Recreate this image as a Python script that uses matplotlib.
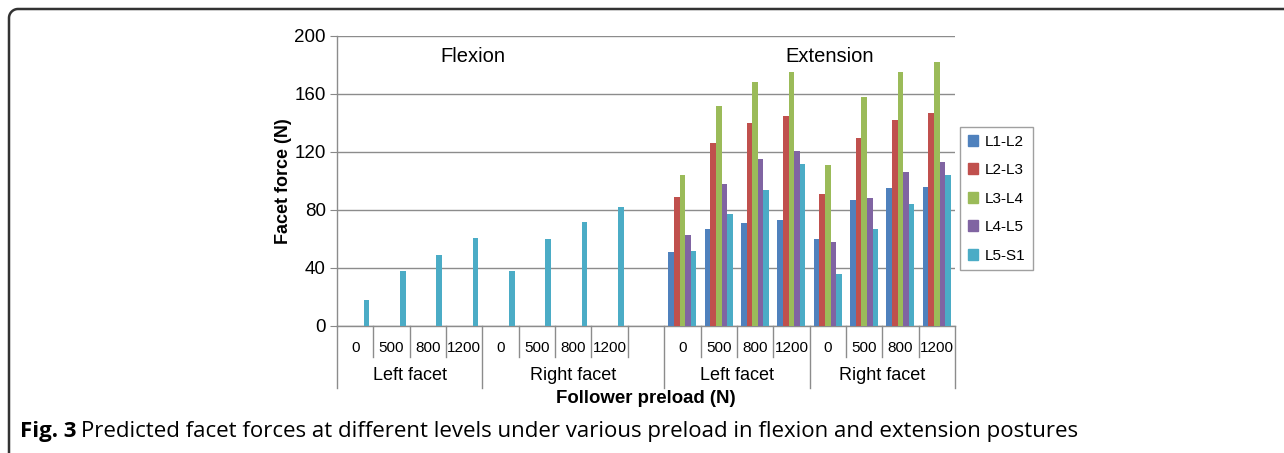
import numpy as np
import matplotlib
matplotlib.use('Agg')
import matplotlib.pyplot as plt
from matplotlib.lines import Line2D
from matplotlib.patches import Patch

levels = ['L1-L2', 'L2-L3', 'L3-L4', 'L4-L5', 'L5-S1']
colors = ['#4F81BD', '#C0504D', '#9BBB59', '#8064A2', '#4BACC6']
preloads = ['0', '500', '800', '1200']
sides = ['Left facet', 'Right facet', 'Left facet', 'Right facet']

# flexion: only L5-S1 carries facet force
flex_left_l5s1 = [18, 38, 49, 61]
flex_right_l5s1 = [38, 60, 72, 82]

# extension, rows = levels, columns = preloads
ext_left = [[51, 67, 71, 73],
            [89, 126, 140, 145],
            [104, 152, 168, 175],
            [63, 98, 115, 121],
            [52, 77, 94, 112]]
ext_right = [[60, 87, 95, 96],
             [91, 130, 142, 147],
             [111, 158, 175, 182],
             [58, 88, 106, 113],
             [36, 67, 84, 104]]

# category slots: 4 flexion-left, 4 flexion-right, 1 empty, 4 ext-left, 4 ext-right
flex_left_x = np.arange(0, 4)
flex_right_x = np.arange(4, 8)
ext_left_x = np.arange(9, 13)
ext_right_x = np.arange(13, 17)
n_cat = 17

plt.rcParams['font.family'] = ['Liberation Sans', 'DejaVu Sans']

fig = plt.figure(figsize=(12.84, 4.53), dpi=100)
ax = fig.add_axes([337/1284, 1-326/453, (955-337)/1284, 290/453])

w = 1/6.5
for i in range(5):
    off = (i - 2) * w
    if i == 4:
        ax.bar(flex_left_x + off, flex_left_l5s1, w, color=colors[i], zorder=3)
        ax.bar(flex_right_x + off, flex_right_l5s1, w, color=colors[i], zorder=3)
    ax.bar(ext_left_x + off, ext_left[i], w, color=colors[i], zorder=3)
    ax.bar(ext_right_x + off, ext_right[i], w, color=colors[i], zorder=3)

ax.set_xlim(-0.5, n_cat - 0.5)
ax.set_ylim(0, 200)
ax.set_yticks(np.arange(0, 201, 40))
ax.tick_params(axis='y', labelsize=13.5, length=5, color='#888888', pad=3)
ax.set_xticks([])
ax.grid(axis='y', color='#8c8c8c', linewidth=1, zorder=0)
for s in ['top', 'right']:
    ax.spines[s].set_visible(False)
for s in ['left', 'bottom']:
    ax.spines[s].set_color('#8c8c8c')
    ax.spines[s].set_linewidth(1)

ax.text(3.24, 186, 'Flexion', fontsize=14.5, ha='center', va='center')
ax.text(13.06, 186, 'Extension', fontsize=14.5, ha='center', va='center')

# two-row category axis drawn by hand
trans = ax.get_xaxis_transform()
group_edges = [-0.5, 3.5, 8.5, 12.5, 16.5]
for k in range(n_cat + 1):
    xe = k - 0.5
    y1 = -0.214 if xe in group_edges else -0.107
    ax.add_line(Line2D([xe, xe], [0, y1], transform=trans, color='#8c8c8c',
                       lw=1, clip_on=False))
for xs in [flex_left_x, flex_right_x, ext_left_x, ext_right_x]:
    for x, lab in zip(xs, preloads):
        ax.text(x, -0.076, lab, transform=trans, ha='center', va='center',
                fontsize=11)
for a, b, lab in zip(group_edges[:-1], group_edges[1:], sides):
    ax.text((a + b) / 2, -0.172, lab, transform=trans, ha='center',
            va='center', fontsize=13)
ax.text(8, -0.25, 'Follower preload (N)', transform=trans, ha='center',
        va='center', fontsize=13.4, fontweight='bold')
fig.text(283/1284, 1-181/453, 'Facet force (N)', rotation=90, ha='center',
         va='center', fontsize=13, fontweight='bold')

handles = [Patch(color=c) for c in colors]
fig.legend(handles, levels, loc='upper left',
           bbox_to_anchor=(960/1284, 1-127/453), fontsize=11,
           frameon=True, fancybox=False, edgecolor='#888888',
           handlelength=0.7, handleheight=0.7, handletextpad=0.4,
           labelspacing=0.95, borderpad=0.5, borderaxespad=0)

# rounded frame along the top and left edges
r = 9
t = np.linspace(np.pi, np.pi/2, 20)
cx, cy = 9 + r, 9 + r
px = np.concatenate([[9, 9], cx + r*np.cos(t), [1290]])
py = np.concatenate([[460, cy], cy - r*np.sin(t), [9]])
fig.add_artist(Line2D(px/1284, 1 - py/453, color='#333333', lw=1.8))

cap_y = 1 - 432/453
fb = fig.text(20/1284, cap_y, 'Fig. 3', fontsize=16, fontweight='bold',
              family=['Open Sans', 'DejaVu Sans'], va='center')
fig.canvas.draw()
bb = fb.get_window_extent()
fig.text((bb.x1 + 5)/1284, cap_y,
         'Predicted facet forces at different levels under various preload '
         'in flexion and extension postures', fontsize=16,
         family=['Open Sans', 'DejaVu Sans'], va='center')

fig.savefig('out.png', dpi=100)
